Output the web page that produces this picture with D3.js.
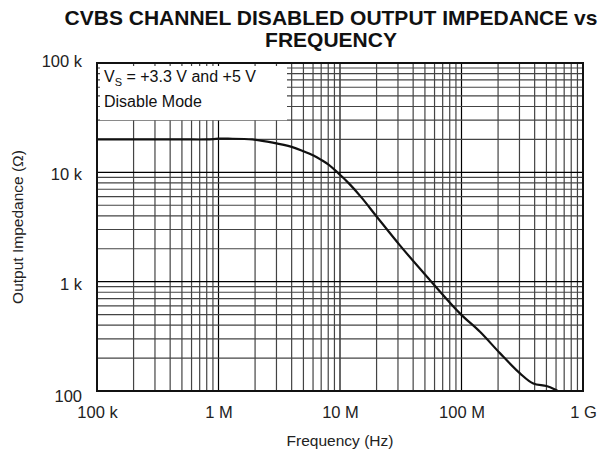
<!DOCTYPE html>
<html>
<head>
<meta charset="utf-8">
<script src="https://cdn.jsdelivr.net/npm/d3@7"></script>
<style>
    body { margin: 0; background: #fff; }
    svg { font-family: "Liberation Sans", Arial, sans-serif; }
</style>
</head>
<body>
<div id="chart"></div>
<script>
//Datos
const FREQ = [1e5, 2e5, 5e5, 8e5, 1e6, 1.2e6, 1.9e6, 2.8e6, 4e6, 5e6, 6e6, 7e6, 8e6, 1e7, 1.2e7, 1.5e7, 2e7, 3.1e7, 5.2e7, 9.7e7, 1.42e8, 2.07e8, 3.03e8, 3.9e8, 5e8, 5.9e8, 6.2e8];
const IMPEDANCE = [20000, 20000, 20000, 20000, 20300, 20300, 20000, 18700, 17100, 15600, 14300, 13000, 11800, 9500, 7800, 5900, 3950, 2160, 1110, 513, 348, 222, 145, 117, 111, 103, 100];
const X_TICKS = [1e5, 1e6, 1e7, 1e8, 1e9];
const X_LABELS = ['100 k', '1 M', '10 M', '100 M', '1 G'];
const Y_TICKS = [1e5, 1e4, 1e3, 1e2];
const Y_LABELS = ['100 k', '10 k', '1 k', '100'];

let margin = {top: 63, right: 20, bottom: 67, left: 97},
    width = 603 - margin.left - margin.right,
    height = 458 - margin.top - margin.bottom;

let root = d3.select('#chart')
    .append('svg')
        .attr('width', 603)
        .attr('height', 458);

let svg = root.append('g')
    .attr('transform', 'translate(' + margin.left + ',' + margin.top + ')');

let x = d3.scaleLog()
    .domain([1e5, 1e9])
    .range([0, width]);

let y = d3.scaleLog()
    .domain([100, 1e5])
    .range([height, 0]);

function isMajor(v) {
    let l = Math.log10(v);
    return Math.abs(l - Math.round(l)) < 1e-9;
}

//Rejilla
svg.append('g')
    .selectAll('line')
    .data(x.ticks())
    .enter()
    .append('line')
    .attr('x1', function(d) { return x(d); })
    .attr('x2', function(d) { return x(d); })
    .attr('y1', 0)
    .attr('y2', height)
    .attr('stroke', function(d) { return isMajor(d) ? '#000' : '#444'; })
    .attr('stroke-width', 1.2);

svg.append('g')
    .selectAll('line')
    .data(y.ticks())
    .enter()
    .append('line')
    .attr('x1', 0)
    .attr('x2', width)
    .attr('y1', function(d) { return y(d); })
    .attr('y2', function(d) { return y(d); })
    .attr('stroke', function(d) { return isMajor(d) ? '#000' : '#444'; })
    .attr('stroke-width', 1.2);

//Leyenda
svg.append('rect')
    .attr('x', 3)
    .attr('y', 3)
    .attr('width', 187)
    .attr('height', y(3e4) - 3)
    .attr('fill', '#fff');

let legend = svg.append('text')
    .attr('x', 7)
    .attr('y', 19)
    .attr('font-size', '16px')
    .attr('fill', '#111');
legend.append('tspan').text('V');
legend.append('tspan').attr('font-size', '11px').attr('dy', 4).text('S');
legend.append('tspan').attr('dy', -4).text(' = +3.3 V and +5 V');

svg.append('text')
    .attr('x', 7)
    .attr('y', 44)
    .attr('font-size', '16px')
    .attr('fill', '#111')
    .text('Disable Mode');

//Curva
let line = d3.line()
    .x(function(d) { return x(d[0]); })
    .y(function(d) { return y(d[1]); })
    .curve(d3.curveCatmullRom);

svg.append('path')
    .datum(d3.zip(FREQ, IMPEDANCE))
    .attr('fill', 'none')
    .attr('stroke', '#111')
    .attr('stroke-width', 2.2)
    .attr('d', line);

//Marco
svg.append('rect')
    .attr('x', 0)
    .attr('y', 0)
    .attr('width', width)
    .attr('height', height)
    .attr('fill', 'none')
    .attr('stroke', '#111')
    .attr('stroke-width', 2);

//Ejes
let xAxis = d3.axisBottom(x)
    .tickValues(X_TICKS)
    .tickFormat(function(d, i) { return X_LABELS[i]; })
    .tickSize(0)
    .tickPadding(15);

svg.append('g')
    .attr('transform', 'translate(0,' + height + ')')
    .call(xAxis)
    .call(function(g) { g.select('.domain').remove(); })
    .call(function(g) { g.selectAll('text').attr('font-size', '16.5px').attr('fill', '#222').attr('font-family', null); });

let yAxis = d3.axisLeft(y)
    .tickValues(Y_TICKS)
    .tickFormat(function(d, i) { return Y_LABELS[i]; })
    .tickSize(0)
    .tickPadding(15);

svg.append('g')
    .call(yAxis)
    .call(function(g) { g.select('.domain').remove(); })
    .call(function(g) {
        g.selectAll('text')
            .attr('font-size', '16.5px')
            .attr('fill', '#222')
            .attr('font-family', null)
            .attr('dy', function(d, i) { return i == 0 ? '0.22em' : (i == Y_TICKS.length - 1 ? '0.62em' : '0.45em'); });
    });

//Títulos
root.append('text')
    .attr('x', 331)
    .attr('y', 25)
    .attr('text-anchor', 'middle')
    .attr('font-size', '21px')
    .attr('font-weight', 'bold')
    .attr('fill', '#111')
    .text('CVBS CHANNEL DISABLED OUTPUT IMPEDANCE vs');

root.append('text')
    .attr('x', 331)
    .attr('y', 47)
    .attr('text-anchor', 'middle')
    .attr('font-size', '21px')
    .attr('font-weight', 'bold')
    .attr('fill', '#111')
    .text('FREQUENCY');

root.append('text')
    .attr('x', margin.left + width / 2)
    .attr('y', 446)
    .attr('text-anchor', 'middle')
    .attr('font-size', '15.5px')
    .attr('fill', '#222')
    .text('Frequency (Hz)');

root.append('text')
    .attr('transform', 'translate(23,' + (margin.top + height / 2) + ') rotate(-90)')
    .attr('text-anchor', 'middle')
    .attr('font-size', '15.5px')
    .attr('fill', '#222')
    .text('Output Impedance (Ω)');
</script>
</body>
</html>
